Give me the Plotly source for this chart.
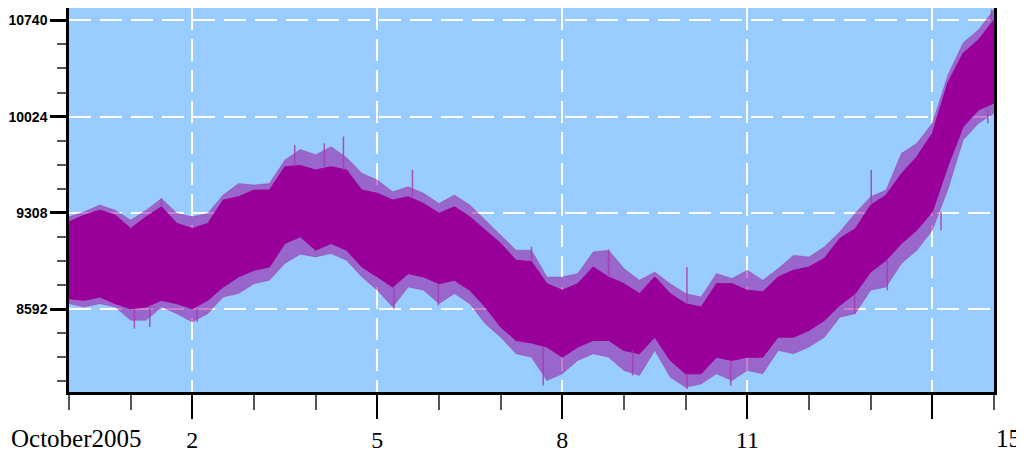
import plotly.graph_objects as go

# days after 1 October 2005, sampled every quarter day
days = [i * 0.25 for i in range(61)]

# solid core of the noisy trace
band_top = [
    9241, 9291, 9328, 9291, 9192, 9278, 9353, 9229, 9192, 9229,
    9403, 9428, 9477, 9477, 9651, 9660, 9627, 9651, 9627, 9477,
    9453, 9403, 9428, 9378, 9304, 9353, 9278, 9179, 9080, 8955,
    8945, 8781, 8732, 8781, 8905, 8831, 8781, 8707, 8831, 8707,
    8632, 8607, 8781, 8781, 8732, 8720, 8831, 8881, 8905, 8970,
    9117, 9190, 9365, 9440, 9600, 9726, 9900, 10273, 10497, 10596,
    10745,
]
band_bottom = [
    8669, 8657, 8682, 8632, 8595, 8607, 8657, 8632, 8595, 8657,
    8756, 8831, 8881, 8905, 9080, 9130, 9030, 9080, 9030, 8905,
    8831, 8756, 8856, 8831, 8781, 8806, 8732, 8607, 8458, 8359,
    8340, 8309, 8234, 8309, 8359, 8359, 8284, 8260, 8383, 8210,
    8110, 8110, 8234, 8210, 8234, 8234, 8383, 8383, 8433, 8508,
    8620, 8707, 8868, 8955, 9080, 9180, 9316, 9651, 9949, 10074,
    10124,
]
# reach of the thin spikes around the core
fringe_top = [
    9278, 9316, 9366, 9328, 9254, 9328, 9415, 9304, 9278, 9304,
    9440, 9527, 9515, 9527, 9701, 9780, 9740, 9800, 9720, 9602,
    9552, 9465, 9502, 9453, 9378, 9440, 9366, 9254, 9142, 9030,
    9030, 8831, 8831, 8856, 9017, 9030, 8893, 8806, 8868, 8781,
    8707, 8682, 8856, 8819, 8881, 8806, 8893, 8993, 8980, 9055,
    9167, 9304, 9428, 9477, 9751, 9826, 9975, 10330, 10573, 10670,
    10820,
]
fringe_bottom = [
    8632, 8607, 8632, 8607, 8508, 8508, 8607, 8558, 8495, 8558,
    8682, 8707, 8781, 8806, 8931, 9000, 8980, 9005, 8955, 8831,
    8732, 8607, 8756, 8732, 8632, 8707, 8632, 8483, 8383, 8260,
    8234, 8060, 8110, 8210, 8260, 8234, 8135, 8098, 8284, 8085,
    8010, 8035, 8110, 8060, 8135, 8110, 8284, 8260, 8309, 8383,
    8532, 8558, 8732, 8756, 8931, 9030, 9179, 9477, 9850, 9975,
    10049,
]

# isolated spikes sticking out of the band
spike_day = [1.50, 3.66, 4.14, 4.45, 5.57, 7.50, 8.75, 10.02, 13.01, 14.96,
             1.06, 1.31, 2.08, 5.27, 5.99, 7.69, 9.14, 10.02, 10.73, 12.74, 13.27, 14.14, 14.90]
spike_base = [9353, 9651, 9651, 9627, 9428, 8945, 8831, 8632, 9365, 10745,
              8595, 8607, 8595, 8756, 8781, 8309, 8284, 8110, 8210, 8707, 8955, 9316, 10074]
spike_tip = [9415, 9813, 9826, 9875, 9627, 9055, 9035, 8905, 9627, 10820,
             8446, 8458, 8495, 8595, 8620, 8023, 8098, 7998, 8023, 8560, 8732, 9179, 9974]

y_ticks = [8592, 9308, 10024, 10740]
y_tick_text = ["8592", "9308", "10024", "10740"]
x_ticks = [2, 5, 8, 11, 14]
x_tick_text = ["2", "5", "8", "11", ""]

PURPLE = "#990099"
FRINGE = "rgba(153,0,153,0.5)"

fig = go.Figure()
fig.add_trace(go.Scatter(x=days, y=fringe_bottom, mode="lines",
                         line=dict(color=FRINGE, width=0.5), hoverinfo="skip"))
fig.add_trace(go.Scatter(x=days, y=fringe_top, mode="lines", fill="tonexty",
                         fillcolor=FRINGE, line=dict(color=FRINGE, width=0.5), hoverinfo="skip"))
fig.add_trace(go.Scatter(x=days, y=band_bottom, mode="lines",
                         line=dict(color=PURPLE, width=1), hoverinfo="skip"))
fig.add_trace(go.Scatter(x=days, y=band_top, mode="lines", fill="tonexty",
                         fillcolor=PURPLE, line=dict(color=PURPLE, width=1)))

sx, sy = [], []
for d, b, t in zip(spike_day, spike_base, spike_tip):
    sx += [d, d, None]
    sy += [b, t, None]
fig.add_trace(go.Scatter(x=sx, y=sy, mode="lines",
                         line=dict(color="rgba(165,60,175,0.85)", width=1.5)))

fig.update_xaxes(
    range=[0, 15], tickvals=x_ticks, ticktext=x_tick_text, automargin=False,
    ticks="outside", ticklen=24, tickwidth=2, tickcolor="black",
    minor=dict(tick0=0, dtick=1, ticks="outside", ticklen=15, tickwidth=2, tickcolor="#555555",
               showgrid=False),
    showgrid=True, gridcolor="white", gridwidth=1.5, griddash="22px,9px",
    showline=True, linecolor="black", linewidth=2.5, mirror=True,
    zeroline=False,
    tickfont=dict(family="Liberation Serif, Times New Roman, serif", size=24, color="black"),
)
fig.update_yaxes(
    range=[7975, 10832], tickvals=y_ticks, ticktext=y_tick_text, automargin=False,
    ticks="outside", ticklen=16, tickwidth=2.5, tickcolor="black",
    minor=dict(tick0=8592, dtick=179, ticks="outside", ticklen=9, tickwidth=2, tickcolor="#555555",
               showgrid=False),
    showgrid=True, gridcolor="white", gridwidth=1.5, griddash="22px,9px",
    showline=True, linecolor="black", linewidth=2.5, mirror=True,
    zeroline=False,
    tickfont=dict(family="Liberation Sans, Arial, sans-serif",
                  size=14, color="black", weight="bold"),
)

label_font = dict(family="Liberation Serif, Times New Roman, serif", size=25, color="black")
fig.add_annotation(x=0, y=0, xref="x", yref="paper", text="October2005", showarrow=False,
                   xanchor="center", yanchor="top", xshift=7, yshift=-31, font=label_font)
fig.add_annotation(x=15, y=0, xref="x", yref="paper", text="15", showarrow=False,
                   xanchor="left", yanchor="top", yshift=-31, font=label_font)

# the page body adds an 8px offset, so the figure is sized to fit the window
fig.update_layout(
    width=1016, height=448,
    margin=dict(l=61, r=30, t=0, b=64, autoexpand=False),
    plot_bgcolor="#99ccff", paper_bgcolor="white",
    showlegend=False,
)

fig.write_html("out.html")
